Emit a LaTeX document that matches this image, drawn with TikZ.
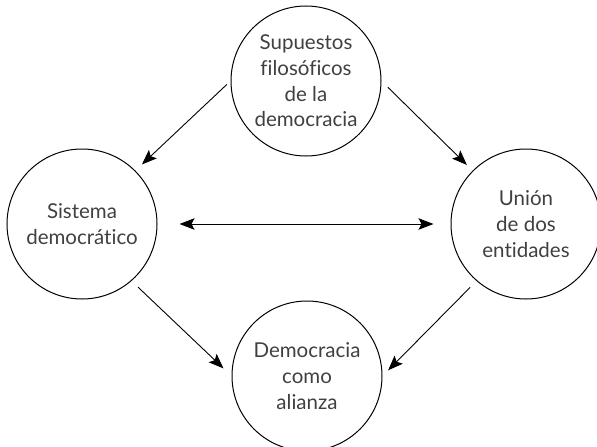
\documentclass[tikz,border=0pt]{standalone}
\usepackage{fontspec}
\setmainfont{Lato}[Ligatures={NoCommon}]
\usetikzlibrary{arrows.meta}

\begin{document}
\begin{tikzpicture}[x=1pt,y=-1pt,font=\fontsize{20.5}{25.7}\selectfont,
  >={Stealth[length=15pt,width=11.5pt,inset=3pt]},
  idea/.style={circle, draw, line width=1pt, minimum size=150pt, inner sep=0pt, align=center, text=black!75},
  link/.style={line width=0.9pt},
]
\useasboundingbox (0,0) rectangle (597,447);

\node[idea] (supuestos) at (306,81) {Supuestos\\filosóficos\\de la\\democracia};
\node[idea] (sistema) at (82,224) {Sistema\\democrático};
\node[idea] (union) at (526,224) {Unión\\de dos\\entidades};
\node[idea] (alianza) at (307,376) {Democracia\\como\\alianza};

\draw[link,->,shorten <=5pt,shorten >=9pt] (supuestos.west) -- (sistema.north east);
\draw[link,->,shorten <=9pt,shorten >=8pt] (supuestos.east) -- (union.north west);
\draw[link,->,shorten <=9pt,shorten >=11pt] (sistema.-49) -- (alianza.west);
\draw[link,->,shorten <=9pt,shorten >=8pt] (union.-131) -- (alianza.east);
\draw[link,<->,shorten <=22pt,shorten >=17pt] (sistema.east) -- (union.west);

\end{tikzpicture}
\end{document}
